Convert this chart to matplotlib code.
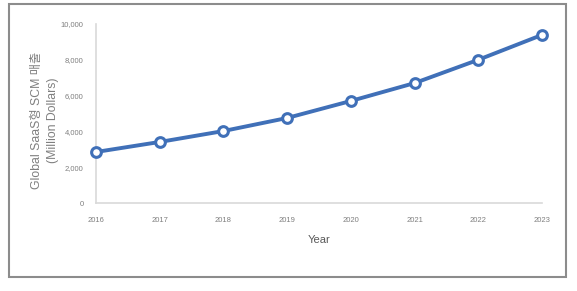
import matplotlib.pyplot as plt
from matplotlib.patches import Rectangle

years = [2016, 2017, 2018, 2019, 2020, 2021, 2022, 2023]
revenue = [2850, 3410, 4020, 4750, 5700, 6700, 8000, 9390]
ytick_vals = [0, 2000, 4000, 6000, 8000, 10000]

plt.rcParams['font.family'] = ['Liberation Sans', 'Noto Sans CJK KR', 'DejaVu Sans']

fig = plt.figure(figsize=(5.77, 2.91), dpi=100)

# outer frame around the chart
fig.patches.append(Rectangle((9 / 577, 1 - 277 / 291), 557 / 577, 273 / 291,
                             transform=fig.transFigure, fill=False,
                             edgecolor='#8c8c8c', linewidth=1.5))

ax = fig.add_axes([96 / 577, 88 / 291, 446 / 577, 179 / 291])
ax.plot(years, revenue, color='#4070b8', linewidth=2.8, marker='o',
        markersize=7, markerfacecolor='white', markeredgewidth=2.2,
        markeredgecolor='#4070b8', clip_on=False, zorder=3)

ax.set_xlim(2016, 2023)
ax.set_ylim(0, 10000)
ax.set_xticks(years)
ax.set_yticks(ytick_vals)
ax.set_yticklabels([f'{v:,}' for v in ytick_vals])
ax.tick_params(length=0, labelsize=5.5, labelcolor='#7f7f7f', pad=9)
ax.tick_params(axis='x', pad=10)

for s in ['top', 'right']:
    ax.spines[s].set_visible(False)
for s in ['left', 'bottom']:
    ax.spines[s].set_color('#d9d9d9')
    ax.spines[s].set_linewidth(1.2)

ax.set_xlabel('Year', fontsize=8, color='#595959', labelpad=8)
ax.set_ylabel('Global SaaS형 SCM 매출\n(Million Dollars)', fontsize=8.8,
              color='#7f7f7f', linespacing=1.45)
ax.yaxis.set_label_coords(-0.082, 0.46)

fig.savefig('out.png', dpi=100)
